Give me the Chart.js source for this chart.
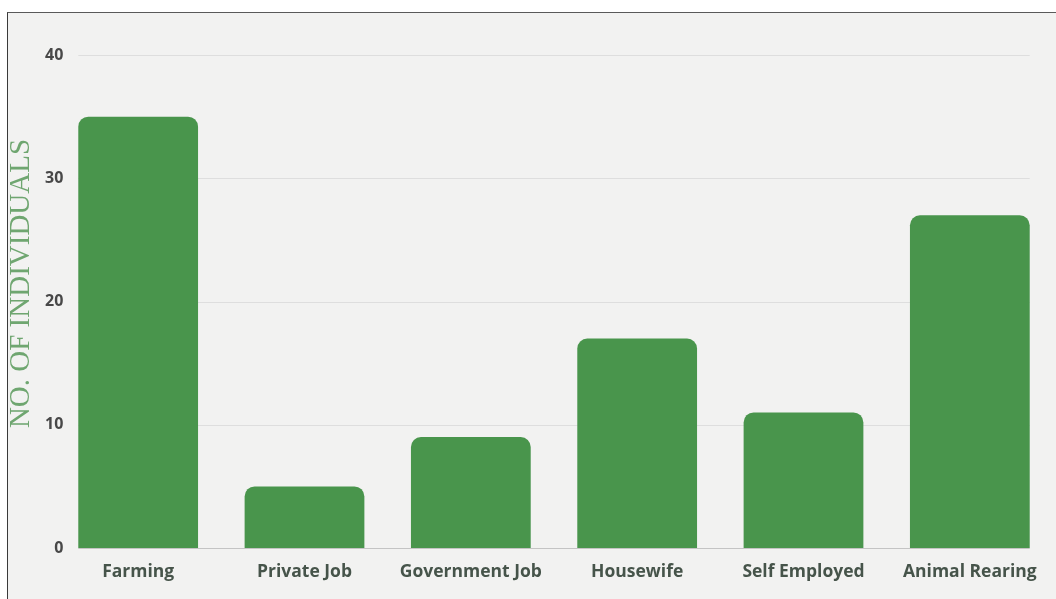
<!DOCTYPE html>
<html>
<head>
<meta charset="utf-8">
<script src="https://cdn.jsdelivr.net/npm/chart.js@4.4.1/dist/chart.umd.min.js"></script>
<style>
    html, body { margin: 0; padding: 0; background: #ffffff; }
    #frame {
        position: absolute; left: 7px; top: 12px; right: 0; bottom: 0;
        border-left: 1px solid #3a3a3a; border-top: 1px solid #5a5a5a;
        background: #f2f2f1;
    }
    #wrap { position: absolute; left: 0; top: 0; width: 1056px; height: 599px; }
</style>
</head>
<body>
<div id="frame"></div>
<div id="wrap"><canvas id="occupationChart"></canvas></div>
<script>
// Occupation of respondents
const categories = ['Farming', 'Private Job', 'Government Job', 'Housewife', 'Self Employed', 'Animal Rearing'];
const individuals = [35, 5, 9, 17, 11, 27];
const yTicks = [0, 10, 20, 30, 40];
const yTitle = 'NO. OF INDIVIDUALS';

const barGreen = '#49954c';

// horizontal grid lines only across the span of the bars
const barSpanGrid = {
    id: 'barSpanGrid',
    beforeDatasetsDraw(chart) {
        const bars = chart.getDatasetMeta(0).data;
        if (!bars.length) return;
        const first = bars[0], last = bars[bars.length - 1];
        const x0 = first.x - first.width / 2;
        const x1 = last.x + last.width / 2;
        const ctx = chart.ctx;
        const y = chart.scales.y;
        ctx.save();
        yTicks.forEach(function(v) {
            const py = Math.round(y.getPixelForValue(v)) + 0.5;
            ctx.strokeStyle = v === 0 ? '#c4c4c4' : '#dedede';
            ctx.lineWidth = 1;
            ctx.beginPath();
            ctx.moveTo(x0, py);
            ctx.lineTo(x1, py);
            ctx.stroke();
        });
        ctx.restore();
    }
};

// vertical axis title, sitting a little above the middle of the plot
const sideTitle = {
    id: 'sideTitle',
    afterDraw(chart) {
        const ctx = chart.ctx;
        const area = chart.chartArea;
        const cy = (area.top + area.bottom) / 2 - 18;
        ctx.save();
        ctx.translate(21, cy);
        ctx.rotate(-Math.PI / 2);
        ctx.font = '29px "Liberation Serif"';
        ctx.fillStyle = '#6fa670';
        ctx.textAlign = 'center';
        ctx.textBaseline = 'middle';
        ctx.fillText(yTitle, 0, 0);
        ctx.restore();
    }
};

document.addEventListener('DOMContentLoaded', function() {
    const ctx = document.getElementById('occupationChart');
    new Chart(ctx, {
        type: 'bar',
        data: {
            labels: categories,
            datasets: [{
                label: 'No. of individuals',
                data: individuals,
                backgroundColor: barGreen,
                borderWidth: 0,
                borderRadius: 10,
                categoryPercentage: 1,
                barPercentage: 0.72
            }]
        },
        options: {
            responsive: true,
            maintainAspectRatio: false,
            animation: false,
            layout: {
                padding: { top: 55, right: 3, bottom: 0, left: 0 }
            },
            plugins: {
                legend: { display: false },
                tooltip: { enabled: false }
            },
            scales: {
                x: {
                    grid: { display: false, drawTicks: false },
                    border: { display: false },
                    ticks: {
                        padding: 14,
                        color: '#46544a',
                        font: { family: '"Open Sans"', size: 17.5, weight: 'bold' }
                    },
                    afterFit: function(scale) { scale.height = 51; }
                },
                y: {
                    min: 0,
                    max: 40,
                    afterBuildTicks: function(scale) {
                        scale.ticks = yTicks.map(function(v) { return { value: v }; });
                    },
                    grid: { display: false, drawTicks: false },
                    border: { display: false },
                    ticks: {
                        mirror: true,
                        crossAlign: 'far',
                        padding: -10,
                        color: '#484848',
                        font: { family: '"Open Sans"', size: 16, weight: 'bold' }
                    },
                    afterFit: function(scale) { scale.width = 55; }
                }
            }
        },
        plugins: [barSpanGrid, sideTitle]
    });
});
</script>
</body>
</html>
